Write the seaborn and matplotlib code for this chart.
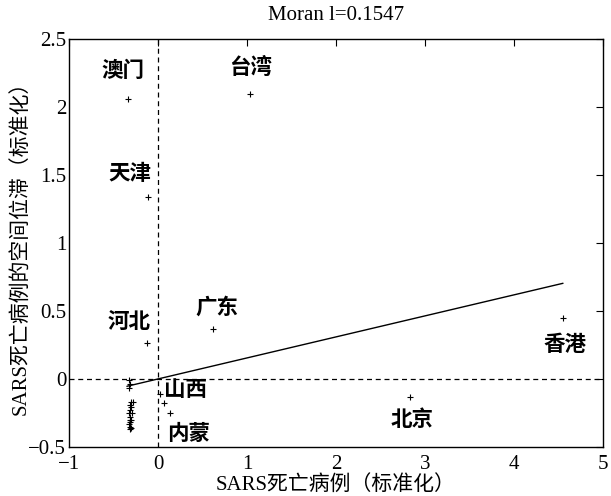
import matplotlib
matplotlib.use("Agg")
import matplotlib.pyplot as plt
import seaborn as sns
import pandas as pd
import numpy as np

sns.set_theme(style="white")
plt.rcParams['font.family'] = ['Liberation Serif', 'Noto Sans CJK SC']
plt.rcParams['axes.unicode_minus'] = True

# Labeled regions
names = ["澳门", "台湾", "天津", "河北", "广东", "香港", "北京", "山西", "内蒙"]
name_x = [-0.34, 1.03, -0.11, -0.12, 0.62, 4.55, 2.83, 0.07, 0.13]
name_y = [2.06, 2.10, 1.34, 0.265, 0.37, 0.45, -0.13, -0.18, -0.25]
label_x = [-0.40, 1.04, -0.32, -0.32, 0.66, 4.57, 2.85, 0.31, 0.34]
label_y = [2.27, 2.29, 1.51, 0.42, 0.53, 0.25, -0.30, -0.08, -0.40]

# Unlabeled cluster of regions with few deaths
cluster_x = [-0.33, -0.32, -0.33, -0.30, -0.28, -0.32, -0.30, -0.31, -0.33,
             -0.29, -0.31, -0.32, -0.30, -0.31, -0.33, -0.32, -0.30, -0.31,
             0.02]
cluster_y = [-0.01, -0.04, -0.07, -0.17, -0.17, -0.19, -0.21, -0.23, -0.25,
             -0.25, -0.28, -0.30, -0.30, -0.32, -0.33, -0.35, -0.36, -0.37,
             -0.11]

moran_i = 0.1547
line_x = [-0.35, 4.55]

x_ticks = [-1, 0, 1, 2, 3, 4, 5]
y_ticks = [-0.5, 0, 0.5, 1, 1.5, 2, 2.5]

df = pd.DataFrame({"x": name_x + cluster_x, "y": name_y + cluster_y})
line_df = pd.DataFrame({"x": line_x, "y": [moran_i * v for v in line_x]})

fig = plt.figure(figsize=(6.11, 4.96), dpi=100)
ax = fig.add_axes([0.113, 0.099, 0.874, 0.822])

sns.scatterplot(data=df, x="x", y="y", marker="+", color="black", s=25,
                linewidth=0.8, ax=ax, legend=False)
sns.lineplot(data=line_df, x="x", y="y", color="black", linewidth=1.0, ax=ax)

ax.axvline(0, color="black", linestyle=(0, (4, 3)), linewidth=0.9)
ax.axhline(0, color="black", linestyle=(0, (4, 3)), linewidth=0.9)

for n, lx, ly in zip(names, label_x, label_y):
    ax.text(lx, ly, n, ha="center", va="center", fontsize=15.5,
            family=['Noto Sans CJK SC'], fontweight="bold", color="black")

ax.set_xlim(-1, 5)
ax.set_ylim(-0.5, 2.5)
ax.set_xticks(x_ticks)
ax.set_yticks(y_ticks)
ax.set_xticklabels(["−1", "0", "1", "2", "3", "4", "5"])
ax.set_yticklabels(["−0.5", "0", "0.5", "1", "1.5", "2", "2.5"])
ax.tick_params(direction="in", length=5, width=0.8, top=True, right=True,
               labelsize=15, colors="black", pad=2)
ax.tick_params(axis="x", pad=6)
for s in ax.spines.values():
    s.set_color("black")
    s.set_linewidth(1.0)

ax.set_xlabel("SARS死亡病例（标准化）", fontsize=15, labelpad=1, color="black")
ax.set_ylabel("SARS死亡病例的空间位滞（标准化）", fontsize=15, labelpad=-2, color="black")
ax.set_title("Moran l=0.1547", fontsize=15, color="black", pad=14)

fig.savefig("out.png", dpi=100)
